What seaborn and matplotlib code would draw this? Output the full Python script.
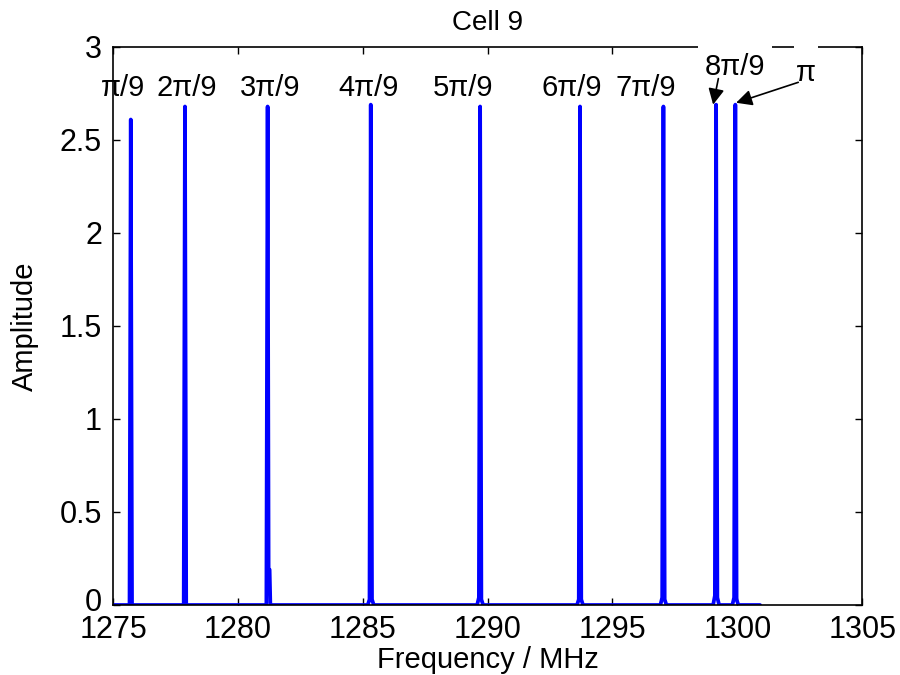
import matplotlib
matplotlib.use("Agg")
import matplotlib.pyplot as plt
from matplotlib.patches import Rectangle
from matplotlib.transforms import ScaledTranslation
import seaborn as sns

# spectrum: thin resonance peaks on a flat baseline
freq_mhz = [
    1275.00, 1275.66, 1275.71, 1275.76,
    1277.83, 1277.88, 1277.93,
    1281.14, 1281.19, 1281.23, 1281.27, 1281.30,
    1285.20, 1285.27, 1285.32, 1285.37, 1285.44,
    1289.58, 1289.65, 1289.70, 1289.75, 1289.82,
    1293.58, 1293.65, 1293.70, 1293.75, 1293.82,
    1296.92, 1296.99, 1297.04, 1297.09, 1297.16,
    1299.03, 1299.10, 1299.15, 1299.20, 1299.27,
    1299.80, 1299.87, 1299.92, 1299.97, 1300.04,
    1300.91,
]
amplitude = [
    0.0, 0.0, 2.61, 0.0,
    0.0, 2.68, 0.0,
    0.0, 2.68, 0.19, 0.19, 0.0,
    0.0, 0.03, 2.69, 0.03, 0.0,
    0.0, 0.04, 2.68, 0.03, 0.0,
    0.0, 0.03, 2.68, 0.03, 0.0,
    0.0, 0.04, 2.68, 0.03, 0.0,
    0.0, 0.05, 2.69, 0.04, 0.0,
    0.0, 0.04, 2.69, 0.03, 0.0,
    0.0,
]

mode_labels = ["π/9", "2π/9", "3π/9", "4π/9", "5π/9", "6π/9", "7π/9"]
x_ticks = [1275, 1280, 1285, 1290, 1295, 1300, 1305]
y_ticks = [0, 0.5, 1, 1.5, 2, 2.5, 3]
y_tick_labels = ["0", "0.5", "1", "1.5", "2", "2.5", "3"]

sns.set_style("ticks")
plt.rcParams["font.family"] = ["Liberation Sans", "DejaVu Sans"]
plt.rcParams["text.color"] = "black"
plt.rcParams["axes.labelcolor"] = "black"
plt.rcParams["xtick.direction"] = "in"
plt.rcParams["ytick.direction"] = "in"

fig = plt.figure(figsize=(9, 6.75), dpi=100)
ax = fig.add_axes([0.1256, 0.1037, 0.8324, 0.8267])

sns.lineplot(x=freq_mhz, y=amplitude, ax=ax, color="#0000ff", linewidth=2.7,
             sort=False, estimator=None)

ax.set_xlim(1275, 1305)
ax.set_ylim(0, 3)
ax.set_xticks(x_ticks)
ax.set_xticklabels([str(t) for t in x_ticks])
ax.set_yticks(y_ticks)
ax.set_yticklabels(y_tick_labels)
ax.tick_params(axis="both", labelsize=22, length=5, width=1,
               top=True, right=True, colors="black")
ax.tick_params(axis="x", pad=7)
ax.tick_params(axis="y", pad=8)
for s in ax.spines.values():
    s.set_linewidth(1.2)
    s.set_color("black")

# lift the "0" a touch so it sits clear of "1275"
zero_lab = ax.yaxis.get_major_ticks()[0].label1
zero_lab.set_transform(zero_lab.get_transform()
                       + ScaledTranslation(0, 4 / 72, fig.dpi_scale_trans))

ax.set_xlabel("Frequency / MHz", fontsize=21, labelpad=1)
ax.set_ylabel("Amplitude", fontsize=21, labelpad=15)
ax.set_title("Cell 9", fontsize=20, pad=12, color="black")

# mode labels above the peaks
label_x = [1275.40, 1277.95, 1281.29, 1285.22, 1289.02, 1293.35, 1296.35]
for lab, lx in zip(mode_labels, label_x):
    ax.text(lx, 2.78, lab, fontsize=21, ha="center", va="center")

box = dict(facecolor="white", edgecolor="none", pad=5)
ax.text(1299.90, 2.89, "8π/9", fontsize=21, ha="center", va="center", bbox=box)
# white patch where the π label cuts the top frame line
ax.add_patch(Rectangle((1302.28, 2.94), 0.97, 0.12, facecolor="white",
                       edgecolor="none", clip_on=False, zorder=3))
ax.text(1302.76, 2.86, "π", fontsize=21, ha="center", va="center", bbox=box)
arrow = dict(arrowstyle="-|>", color="black", lw=1.2, mutation_scale=24,
             shrinkA=0, shrinkB=0)
ax.annotate("", xy=(1299.03, 2.69), xytext=(1299.24, 2.83), arrowprops=arrow)
ax.annotate("", xy=(1299.95, 2.70), xytext=(1302.44, 2.81), arrowprops=arrow)

fig.savefig("out.png", dpi=100)
